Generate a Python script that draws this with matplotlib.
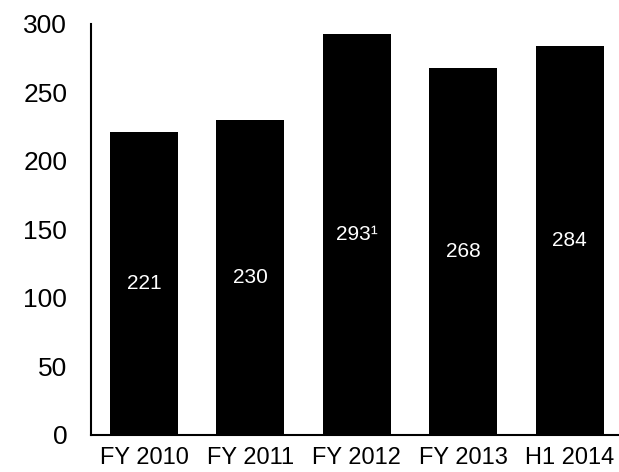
import matplotlib.pyplot as plt

# ── Data ─────────────────────────────────────────────────────────────────────
categories = ["FY 2010", "FY 2011", "FY 2012", "FY 2013", "H1 2014"]
values = [221, 230, 293, 268, 284]
value_labels = ["221", "230", "293\u00b9", "268", "284"]

plt.rcParams["font.family"] = ["Liberation Sans", "DejaVu Sans"]

fig = plt.figure(figsize=(6.19, 4.72), dpi=100)
ax = fig.add_axes([0.1467, 0.0784, 0.8595, 0.8708])

x = range(len(categories))
ax.bar(x, values, width=0.64, color="black", edgecolor="none")

for xi, v, lbl in zip(x, values, value_labels):
    ax.text(xi, v / 2, lbl, color="white", ha="center", va="center", fontsize=15)

ax.set_xlim(-0.5, 4.5)
ax.set_ylim(0, 300)
ax.set_yticks(range(0, 301, 50))
ax.set_xticks(list(x))
ax.set_xticklabels(categories)

for side in ("top", "right"):
    ax.spines[side].set_visible(False)
for side in ("left", "bottom"):
    ax.spines[side].set_linewidth(1.5)

ax.tick_params(axis="y", length=0, pad=17, labelsize=19)
ax.tick_params(axis="x", length=0, pad=9, labelsize=17)

fig.savefig("out.png", dpi=100)
